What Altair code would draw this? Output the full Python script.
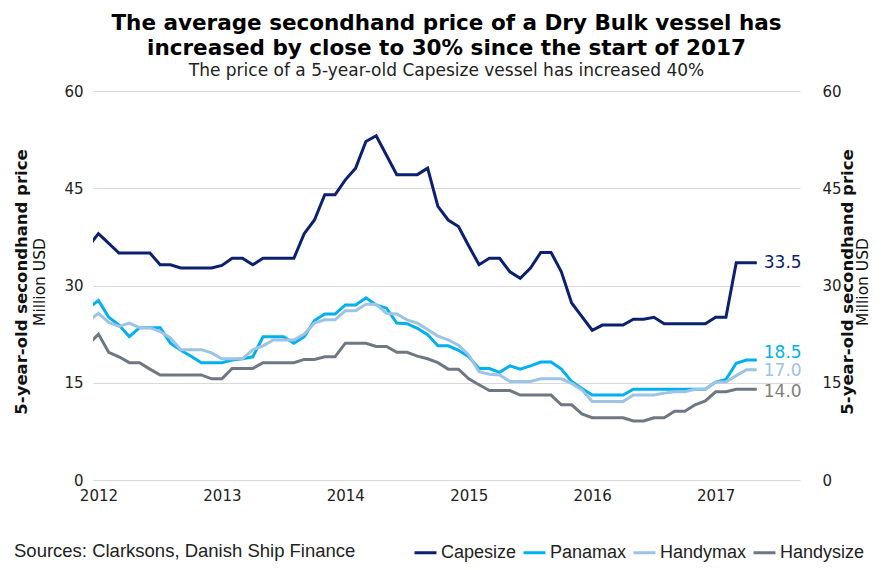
import altair as alt
import pandas as pd

# monthly observations, Dec 2011 .. May 2017
months = pd.date_range("2011-12-01", "2017-05-01", freq="MS").strftime("%Y-%m").tolist()

capesize = [36.0, 38.0, 36.5, 35.0, 35.0, 35.0, 35.0, 33.2, 33.2, 32.7, 32.7, 32.7, 32.7,
            33.1, 34.2, 34.2, 33.2, 34.2, 34.2, 34.2, 34.2, 38.0, 40.1, 44.0, 44.0,
            46.3, 48.1, 52.2, 53.1, 50.1, 47.1, 47.1, 47.1, 48.1, 42.2, 40.1, 39.1,
            36.1, 33.2, 34.2, 34.2, 32.1, 31.1, 32.7, 35.1, 35.1, 32.1, 27.3, 25.2,
            23.1, 23.9, 23.9, 23.9, 24.8, 24.8, 25.1, 24.1, 24.1, 24.1, 24.1, 24.1,
            25.1, 25.1, 33.5, 33.5, 33.5]
panamax = [26.5, 27.7, 25.1, 23.9, 22.1, 23.5, 23.5, 23.5, 21.1, 20.0, 19.1, 18.1, 18.1,
           18.1, 18.5, 18.7, 19.0, 22.1, 22.1, 22.1, 21.1, 22.1, 24.6, 25.6, 25.6,
           27.0, 27.0, 28.1, 27.0, 26.5, 24.2, 24.1, 23.4, 22.4, 20.7, 20.7, 20.0,
           19.0, 17.2, 17.2, 16.6, 17.6, 17.1, 17.6, 18.2, 18.2, 17.1, 15.2, 14.1,
           13.1, 13.1, 13.1, 13.1, 14.0, 14.0, 14.0, 14.0, 14.0, 14.0, 14.0, 14.0,
           15.1, 15.5, 18.0, 18.5, 18.5]
handymax = [24.5, 25.7, 24.3, 23.7, 24.2, 23.5, 23.5, 22.9, 21.9, 20.1, 20.1, 20.1, 19.6,
            18.7, 18.7, 18.7, 20.1, 20.7, 21.6, 21.6, 21.6, 22.5, 24.2, 24.7, 24.7,
            26.1, 26.1, 27.1, 27.1, 25.7, 25.6, 24.7, 24.2, 23.2, 22.2, 21.6, 20.8,
            19.3, 16.7, 16.3, 16.2, 15.2, 15.2, 15.2, 15.6, 15.6, 15.6, 14.9, 13.9,
            12.1, 12.1, 12.1, 12.1, 13.1, 13.1, 13.1, 13.4, 13.6, 13.6, 14.0, 14.0,
            15.1, 15.1, 16.1, 17.0, 17.0]
handysize = [20.9, 22.5, 19.7, 19.0, 18.1, 18.1, 17.1, 16.2, 16.2, 16.2, 16.2, 16.2, 15.6,
             15.6, 17.2, 17.2, 17.2, 18.1, 18.1, 18.1, 18.1, 18.6, 18.6, 19.0, 19.0,
             21.1, 21.1, 21.1, 20.6, 20.6, 19.7, 19.7, 19.1, 18.7, 18.1, 17.1, 17.1,
             15.6, 14.7, 13.8, 13.8, 13.8, 13.1, 13.1, 13.1, 13.1, 11.6, 11.6, 10.2,
             9.6, 9.6, 9.6, 9.6, 9.1, 9.1, 9.6, 9.6, 10.6, 10.6, 11.6, 12.2,
             13.6, 13.6, 14.0, 14.0, 14.0]

series_names = ["Capesize", "Panamax", "Handymax", "Handysize"]
line_colors = ["#0B2070", "#00B0F0", "#9DC3E6", "#6E7883"]
label_colors = ["#0B2070", "#00B0F0", "#9DC3E6", "#7F7F7F"]
year_ticks = [0, 12, 24, 36, 48, 60]
y_ticks = [0, 15, 30, 45, 60]

rows = []
for name, vals in zip(series_names, [capesize, panamax, handymax, handysize]):
    for m, v in zip(months, vals):
        yy, mo = int(m[:4]), int(m[5:])
        rows.append({"t": (yy - 2012) * 12 + mo - 1, "value": v, "series": name})
df = pd.DataFrame(rows)

last = []
for name, vals, col in zip(series_names, [capesize, panamax, handymax, handysize], label_colors):
    m = months[-1]
    yy, mo = int(m[:4]), int(m[5:])
    last.append({"t": (yy - 2012) * 12 + mo - 1, "value": vals[-1], "series": name,
                 "label": f"{vals[-1]:.1f}", "col": col})
df_last = pd.DataFrame(last)

W, H = 707, 389
FONT = "DejaVu Sans"
NARROW = "Liberation Sans"

xenc = alt.X("t:Q",
             scale=alt.Scale(domain=[-0.53, 68.2], nice=False, zero=False),
             axis=alt.Axis(values=year_ticks, labelExpr="'' + (2012 + datum.value / 12)",
                           grid=False, ticks=False, domain=False, labelFont=FONT,
                           labelFontSize=15, labelColor="#222222", labelPadding=8,
                           title=None))
yscale = alt.Scale(domain=[0, 60], nice=False)

left_axis = alt.Axis(values=y_ticks, orient="left", grid=True, gridColor="#D9D9D9",
                     gridWidth=1, ticks=False, domain=False, labelFont=FONT,
                     labelFontSize=15, labelColor="#222222", labelPadding=10, title=None)
right_axis = alt.Axis(values=y_ticks, orient="right", grid=False, ticks=False,
                      domain=False, labelFont=FONT, labelFontSize=15,
                      labelColor="#222222", labelPadding=22, title=None)

lines = alt.Chart(df).mark_line(strokeWidth=3, clip=True).encode(
    x=xenc,
    y=alt.Y("value:Q", scale=yscale, axis=left_axis),
    color=alt.Color("series:N",
                    scale=alt.Scale(domain=series_names, range=line_colors),
                    sort=series_names, title=None,
                    legend=alt.Legend(orient="none", legendX=320, legendY=449,
                                      direction="horizontal", symbolType="stroke",
                                      symbolStrokeWidth=3, symbolSize=484,
                                      labelFont=NARROW, labelFontSize=18,
                                      labelColor="#222222", labelOffset=3,
                                      columnPadding=0, padding=0)),
)

right = alt.Chart(df).mark_line(opacity=0).encode(
    x=xenc,
    y=alt.Y("value:Q", scale=yscale, axis=right_axis),
)


def end_label(names, dy):
    return alt.Chart(df_last).transform_filter(
        alt.FieldOneOfPredicate(field="series", oneOf=names)
    ).mark_text(align="left", baseline="middle", dx=7, dy=dy,
                fontSize=17, font=FONT).encode(
        x=xenc,
        y=alt.Y("value:Q", scale=yscale, axis=None),
        text="label:N",
        color=alt.Color("col:N", scale=None),
    )


one = pd.DataFrame({"k": [0]})


def vtext(txt, xpos, bold):
    return alt.Chart(one).mark_text(text=txt, angle=270, align="center", baseline="middle",
                                    fontSize=16.5 if bold else 15.5,
                                    fontWeight="bold" if bold else "normal",
                                    font=FONT, color="#111111").encode(
        x=alt.value(xpos), y=alt.value(191))


source = alt.Chart(one).mark_text(text="Sources: Clarksons, Danish Ship Finance",
                                  align="left", baseline="middle", fontSize=18.5,
                                  font=NARROW, color="#222222").encode(
    x=alt.value(-79), y=alt.value(460))

chart = alt.layer(
    lines, right,
    end_label(["Capesize"], 0),
    end_label(["Handymax"], 1),
    end_label(["Handysize"], 3),
    end_label(["Panamax"], -7),
    vtext("5-year-old secondhand price", -71, True),
    vtext("Million USD", -53, False),
    vtext("5-year-old secondhand price", 755, True),
    vtext("Million USD", 770, False),
    source,
).resolve_axis(y="independent").properties(
    width=W, height=H,
    title=alt.Title(
        text=["The average secondhand price of a Dry Bulk vessel has",
              "increased by close to 30% since the start of 2017"],
        subtitle="The price of a 5-year-old Capesize vessel has increased 40%",
        anchor="middle", frame="group", font=FONT, fontSize=21.5, fontWeight="bold",
        color="#000000", lineHeight=25, subtitleFont=FONT, subtitleFontSize=17,
        subtitleColor="#222222", subtitlePadding=4, offset=5),
    autosize=alt.AutoSizeParams(type="none"),
    padding={"left": 85, "top": 83, "right": 73, "bottom": 82},
).configure_view(stroke=None)

chart.save("out.html", embed_options={"renderer": "svg", "actions": False})
